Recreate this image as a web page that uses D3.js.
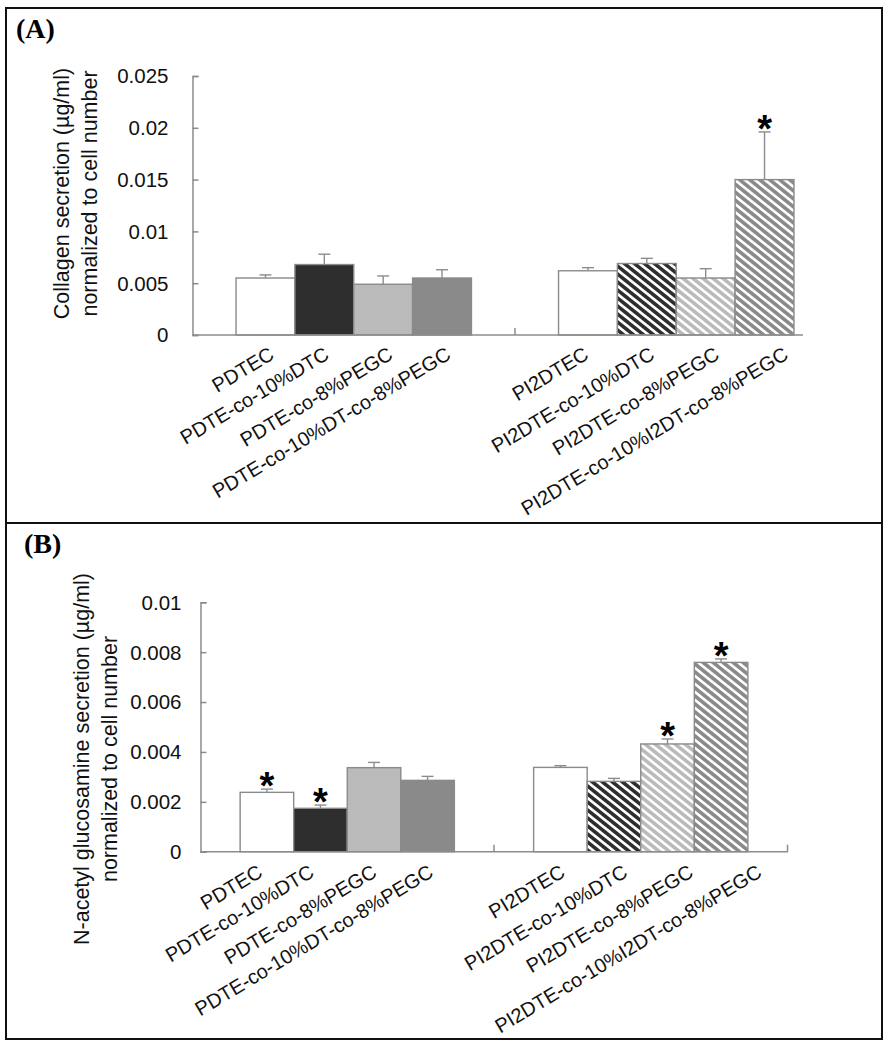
<!DOCTYPE html>
<html>
<head>
<meta charset="utf-8">
<script src="https://cdn.jsdelivr.net/npm/d3@7"></script>
<style>
  html, body { margin: 0; padding: 0; background: #fff; }
  svg { display: block; }
</style>
</head>
<body>
<script>
// ---------------- DATA ----------------
const groups = ["PDTE family", "PI2DTE family"];
const categoriesLeft = ["PDTEC", "PDTE-co-10%DTC", "PDTE-co-8%PEGC", "PDTE-co-10%DT-co-8%PEGC"];
const categoriesRight = ["PI2DTEC", "PI2DTE-co-10%DTC", "PI2DTE-co-8%PEGC", "PI2DTE-co-10%I2DT-co-8%PEGC"];

const collagenMean = [0.0055, 0.0068, 0.0049, 0.0055, 0.0062, 0.0069, 0.0055, 0.0150];
const collagenErr  = [0.0003, 0.0010, 0.0008, 0.0008, 0.0003, 0.0005, 0.0009, 0.0046];
const collagenSig  = [false, false, false, false, false, false, false, true];
const collagenTicks = [0, 0.005, 0.01, 0.015, 0.02, 0.025];

const nagMean = [0.00238, 0.00174, 0.00337, 0.00286, 0.00338, 0.00282, 0.00432, 0.00759];
const nagErr  = [0.00013, 0.00013, 0.00021, 0.00016, 0.00007, 0.00012, 0.00020, 0.00014];
const nagSig  = [true, true, false, false, false, false, true, true];
const nagTicks = [0, 0.002, 0.004, 0.006, 0.008, 0.01];

// ---------------- STYLE ----------------
const fills = ["#ffffff", "#2e2e2e", "#bababa", "#8a8a8a"];
const W = 885, H = 1050;
const axisColor = "#8c8c8c";
const font = "Liberation Sans, Arial, Helvetica, sans-serif";

const svg = d3.select("body").append("svg").attr("width", W).attr("height", H);
const defs = svg.append("defs");

// hatch patterns (white diagonal stripes over base colour)
const hw = 10, hh = 8;
function hatchPath() {
  const slope = hh / hw;
  let p = "";
  for (let k = -1; k <= 1; k++) {
    const c = k * hh;
    const x1 = -2, x2 = hw + 2;
    p += `M${x1},${x1 * slope + c}L${x2},${x2 * slope + c}`;
  }
  return p;
}
fills.forEach((c, i) => {
  const pat = defs.append("pattern").attr("id", "hatch" + i)
    .attr("patternUnits", "userSpaceOnUse").attr("width", hw).attr("height", hh);
  pat.append("rect").attr("width", hw).attr("height", hh).attr("fill", c);
  pat.append("path").attr("d", hatchPath()).attr("stroke", "#fff").attr("stroke-width", 2.6).attr("fill", "none");
});

// panel frames
svg.append("rect").attr("x", 6).attr("y", 8).attr("width", 876).attr("height", 515)
  .attr("fill", "none").attr("stroke", "#111").attr("stroke-width", 2);
svg.append("rect").attr("x", 6).attr("y", 523).attr("width", 876).attr("height", 516)
  .attr("fill", "none").attr("stroke", "#111").attr("stroke-width", 2);

function fmt(v) { return String(+v.toFixed(4)); }

function drawPanel(cfg) {
  const g = svg.append("g");
  const y = d3.scaleLinear().domain([0, cfg.ticks[cfg.ticks.length - 1]]).range([cfg.y0, cfg.yTop]);
  const xg = d3.scaleBand().domain(groups).range(cfg.xRange).paddingInner(0).paddingOuter(0);
  const xi = d3.scaleBand().domain(d3.range(4)).range([0, xg.bandwidth()]).paddingInner(0).paddingOuter(0.74);

  const cats = categoriesLeft.concat(categoriesRight);
  const data = cfg.mean.map((m, i) => ({
    i, name: cats[i], mean: m, err: cfg.err[i], sig: cfg.sig[i],
    group: groups[i < 4 ? 0 : 1], idx: i % 4, hatched: i >= 4
  }));
  const bx = d => xg(d.group) + xi(d.idx);
  const cx = d => bx(d) + xi.bandwidth() / 2;

  // panel title
  g.append("text").attr("x", cfg.titleX).attr("y", cfg.titleY)
    .attr("font-family", "Liberation Serif, Times New Roman, serif").attr("font-weight", "bold")
    .attr("font-size", 28).text(cfg.title);

  // bars
  g.selectAll("rect.bar").data(data).join("rect").attr("class", "bar")
    .attr("x", bx).attr("width", xi.bandwidth())
    .attr("y", d => y(d.mean)).attr("height", d => y(0) - y(d.mean))
    .attr("fill", d => d.hatched ? `url(#hatch${d.idx})` : fills[d.idx])
    .attr("stroke", "#8a8a8a").attr("stroke-width", 1.4);

  // error bars (upper only)
  g.selectAll("line.err").data(data).join("line").attr("class", "err")
    .attr("x1", cx).attr("x2", cx)
    .attr("y1", d => y(d.mean)).attr("y2", d => y(d.mean + d.err))
    .attr("stroke", axisColor).attr("stroke-width", 1.4);
  g.selectAll("line.cap").data(data).join("line").attr("class", "cap")
    .attr("x1", d => cx(d) - 6).attr("x2", d => cx(d) + 6)
    .attr("y1", d => y(d.mean + d.err)).attr("y2", d => y(d.mean + d.err))
    .attr("stroke", axisColor).attr("stroke-width", 1.4);

  // significance stars
  g.selectAll("text.star").data(data.filter(d => d.sig)).join("text").attr("class", "star")
    .attr("x", cx).attr("y", d => y(d.mean + d.err) + 10)
    .attr("text-anchor", "middle").attr("font-family", font).attr("font-weight", "bold")
    .attr("font-size", 38).text("*");

  // y axis
  const yAxis = d3.axisRight(y).tickValues(cfg.ticks).tickSize(6).tickFormat("");
  const ya = g.append("g").attr("transform", `translate(${cfg.xRange[0]},0)`).call(yAxis);
  ya.select(".domain").attr("stroke", axisColor).attr("stroke-width", 1.5);
  ya.selectAll(".tick line").attr("stroke", axisColor).attr("stroke-width", 1.5);
  g.selectAll("text.ytl").data(cfg.ticks).join("text").attr("class", "ytl")
    .attr("x", cfg.xRange[0] - cfg.tickGap).attr("y", d => y(d)).attr("dy", "0.36em")
    .attr("text-anchor", "end").attr("font-family", font).attr("font-size", 20.5).attr("fill", "#111")
    .text(fmt);

  // x baseline + category-boundary ticks
  g.append("line").attr("x1", cfg.xRange[0]).attr("x2", cfg.axisEnd)
    .attr("y1", y(0)).attr("y2", y(0)).attr("stroke", axisColor).attr("stroke-width", 1.5);
  const bounds = groups.map(k => xg(k) + xg.bandwidth()).filter(v => v <= cfg.axisEnd + 1);
  g.selectAll("line.xt").data(bounds).join("line").attr("class", "xt")
    .attr("x1", d => d).attr("x2", d => d).attr("y1", y(0)).attr("y2", y(0) - 7)
    .attr("stroke", axisColor).attr("stroke-width", 1.5);

  // category labels
  g.selectAll("text.xl").data(data).join("text").attr("class", "xl")
    .attr("transform", d => `translate(${cx(d) + cfg.labDx[d.i]},${y(0) + cfg.labDy}) rotate(-31)`)
    .attr("text-anchor", "end").attr("font-family", font).attr("font-size", 20).attr("fill", "#111")
    .text(d => d.name);

  // y axis title
  const yc = (y.range()[0] + y.range()[1]) / 2 + cfg.yTitleShift;
  cfg.yTitle.forEach((t, i) => {
    g.append("text").attr("transform", `translate(${cfg.yTitleX[i]},${yc}) rotate(-90)`)
      .attr("text-anchor", "middle").attr("font-family", font).attr("font-size", 21.5).attr("fill", "#111")
      .text(t);
  });
}

drawPanel({
  title: "(A)", titleX: 16, titleY: 38,
  mean: collagenMean, err: collagenErr, sig: collagenSig, ticks: collagenTicks,
  y0: 335, yTop: 76, xRange: [192.5, 837.5], axisEnd: 803, tickGap: 24,
  labDx: [10, 6, 11, 10, 2, 9, 15, 25], labDy: 23,
  yTitle: ["Collagen secretion (µg/ml)", "normalized to cell number"], yTitleX: [69, 97], yTitleShift: -12
});

drawPanel({
  title: "(B)", titleX: 24, titleY: 553,
  mean: nagMean, err: nagErr, sig: nagSig, ticks: nagTicks,
  y0: 851.7, yTop: 602.3, xRange: [200.5, 787.5], axisEnd: 788, tickGap: 19,
  labDx: [-3, -5, 4, 7, 6, 15, 27, 42], labDy: 24,
  yTitle: ["N-acetyl glucosamine secretion  (µg/ml)", "normalized to cell number"], yTitleX: [89, 117], yTitleShift: 32
});
</script>
</body>
</html>
